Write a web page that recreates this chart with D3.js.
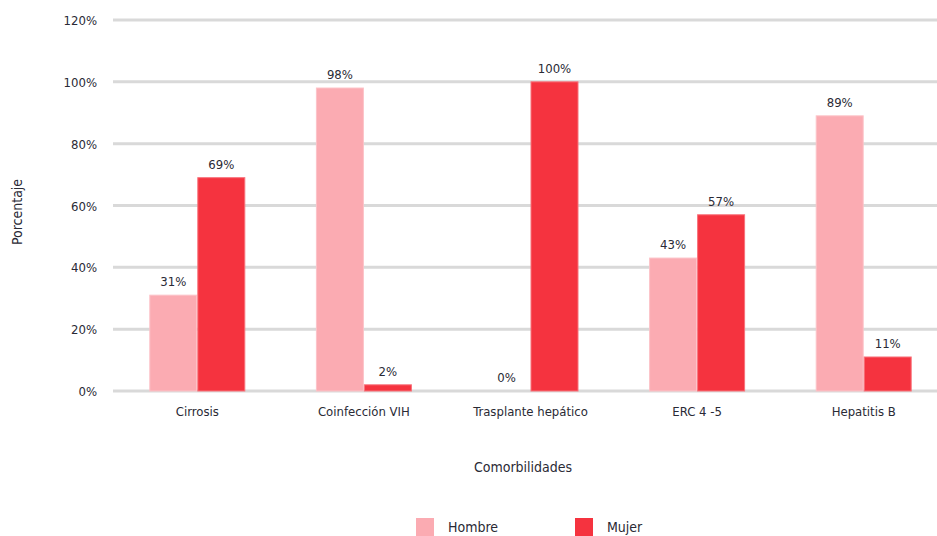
<!DOCTYPE html>
<html>
<head>
<meta charset="utf-8">
<script src="https://cdn.jsdelivr.net/npm/d3@7"></script>
<style>
  html, body { margin: 0; padding: 0; background: #fff; }
  svg { display: block; }
  text { font-family: "Liberation Sans Narrow", "DejaVu Sans Condensed", "Open Sans", sans-serif; fill: #2a2a35; }
</style>
</head>
<body>
<svg id="chart" width="937" height="536"></svg>
<script>
// Comorbilidades por sexo (porcentaje)
const categories = ["Cirrosis", "Coinfección VIH", "Trasplante hepático", "ERC 4 -5", "Hepatitis B"];
const seriesNames = ["Hombre", "Mujer"];
const hombre = [31, 98, 0, 43, 89];
const mujer = [69, 2, 100, 57, 11];
const yTicks = [0, 20, 40, 60, 80, 100, 120];
const colors = ["#fbabb2", "#f5333f"];
const strokes = ["#fcc3c8", "#f8727b"];

const svg = d3.select("#chart");
const W = 937;

const x = d3.scaleBand().domain(categories).range([114, 947]).paddingInner(0).paddingOuter(0);
const barW = 48;
const y = d3.scaleLinear().domain([0, 120]).range([391, 20]);

// horizontal gridlines
svg.append("g").selectAll("line").data(yTicks).join("line")
  .attr("x1", 113).attr("x2", W)
  .attr("y1", d => y(d)).attr("y2", d => y(d))
  .attr("stroke", "#d9d9d9").attr("stroke-width", 3);

// y tick labels
const yAxis = d3.axisLeft(y).tickValues(yTicks).tickFormat(d => d + "%").tickSize(0).tickPadding(0);
const gy = svg.append("g").attr("transform", "translate(97,0)").call(yAxis);
gy.select(".domain").remove();
gy.selectAll("text").attr("font-size", 13).style("font-family", null).attr("font-family", null).attr("dy", "0.35em");

// bars
const data = categories.map((c, i) => ({ cat: c, vals: [hombre[i], mujer[i]] }));
const groups = svg.append("g").selectAll("g").data(data).join("g")
  .attr("transform", d => `translate(${x(d.cat) + x.bandwidth() / 2},0)`);

groups.selectAll("rect").data(d => d.vals).join("rect")
  .attr("x", (d, j) => (j === 0 ? -barW : 0) + 0.5)
  .attr("width", barW - 1)
  .attr("y", d => y(d))
  .attr("height", d => y(0) - y(d))
  .attr("fill", (d, j) => colors[j])
  .attr("stroke", (d, j) => strokes[j])
  .attr("stroke-width", 1)
  .attr("display", d => d === 0 ? "none" : null);

groups.selectAll("text.val").data(d => d.vals).join("text")
  .attr("class", "val")
  .attr("x", (d, j) => j === 0 ? -barW / 2 : barW / 2)
  .attr("y", d => y(d) - 9)
  .attr("text-anchor", "middle")
  .attr("font-size", 13)
  .text(d => d + "%");

// category labels
const xAxis = d3.axisBottom(x).tickSize(0).tickPadding(0);
const gx = svg.append("g").attr("transform", "translate(0,411)").call(xAxis);
gx.select(".domain").remove();
gx.selectAll("text").attr("font-size", 13).attr("font-family", null).attr("dy", "0.35em");

// axis titles
svg.append("text").attr("x", 523).attr("y", 472).attr("text-anchor", "middle").attr("font-size", 14).text("Comorbilidades");
svg.append("text").attr("transform", "translate(22,212) rotate(-90)").attr("text-anchor", "middle").attr("font-size", 14).text("Porcentaje");

// legend
const legendX = [416, 575];
const lg = svg.append("g").selectAll("g").data(seriesNames).join("g")
  .attr("transform", (d, i) => `translate(${legendX[i]},518)`);
lg.append("rect").attr("width", 18).attr("height", 18).attr("fill", (d, i) => colors[i]);
lg.append("text").attr("x", 32).attr("y", 9).attr("dy", "0.35em").attr("font-size", 14).text(d => d);
</script>
</body>
</html>
